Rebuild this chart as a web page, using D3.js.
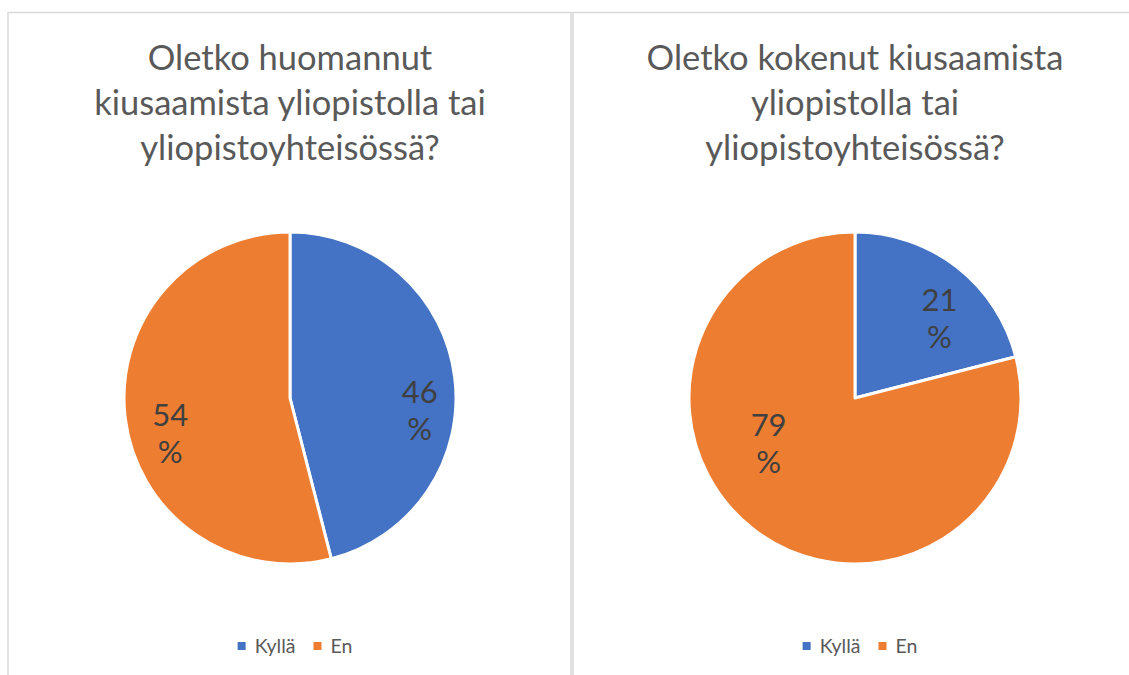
<!DOCTYPE html>
<html>
<head>
<meta charset="utf-8">
<script src="https://cdn.jsdelivr.net/npm/d3@7"></script>
<style>
  html, body { margin: 0; padding: 0; background: #fff; }
  svg { display: block; font-family: Lato, "Open Sans", sans-serif; }
</style>
</head>
<body>
<svg id="chart" width="1129" height="675"></svg>
<script>
// ---- data ----
const categories = ["Kyllä", "En"];
const titles = [
  ["Oletko huomannut", "kiusaamista yliopistolla tai", "yliopistoyhteisössä?"],
  ["Oletko kokenut kiusaamista", "yliopistolla tai", "yliopistoyhteisössä?"]
];
const valuesObserved = [46, 54];
const valuesExperienced = [21, 79];
const colors = ["#4472C4", "#ED7D31"];

// ---- layout (not data) ----
const W = 1129, H = 675;
const panels = [
  { x0: 8, x1: 571, cx: 290, values: valuesObserved, title: titles[0],
    labelShift: [[-2, 29], [12, 18]] },
  { x0: 573, x1: 1140, cx: 855, values: valuesExperienced, title: titles[1],
    labelShift: [[3, 25], [-5, -60]] }
];
const cy = 398, R = 166;

const svg = d3.select("#chart");
svg.append("rect").attr("width", W).attr("height", H).attr("fill", "#fff");

const pie = d3.pie().sort(null).value(d => d);
const arc = d3.arc().innerRadius(0).outerRadius(R);
const labelArc = d3.arc().innerRadius(R * 0.8).outerRadius(R * 0.8);

panels.forEach(p => {
  // panel border
  svg.append("rect")
    .attr("x", p.x0).attr("y", 12.5)
    .attr("width", p.x1 - p.x0).attr("height", H + 20)
    .attr("fill", "none").attr("stroke", "#d9d9d9").attr("stroke-width", 1.5);

  // title
  const t = svg.append("text")
    .attr("text-anchor", "middle")
    .attr("fill", "#595959")
    .style("font-size", "34.5px");
  p.title.forEach((line, i) => {
    t.append("tspan").attr("x", p.cx).attr("y", 70 + i * 45).text(line);
  });

  const g = svg.append("g").attr("transform", `translate(${p.cx},${cy})`);
  const arcs = pie(p.values);
  g.selectAll("path").data(arcs).join("path")
    .attr("d", arc)
    .attr("fill", (d, i) => colors[i])
    .attr("stroke", "#fff").attr("stroke-width", 3)
    .attr("stroke-linejoin", "round");

  // data labels
  arcs.forEach((d, i) => {
    const [x, y] = labelArc.centroid(d);
    const [dx, dy] = p.labelShift[i];
    const lt = g.append("text")
      .attr("text-anchor", "middle")
      .attr("fill", "#404040")
      .style("font-size", "31px");
    lt.append("tspan").attr("x", x + dx).attr("y", y + dy - 7).text(d.data);
    lt.append("tspan").attr("x", x + dx).attr("y", y + dy + 30).text("%");
  });

  // legend
  const lg = svg.append("g");
  let lx = 0;
  categories.forEach((c, i) => {
    lg.append("rect").attr("x", lx).attr("y", -11).attr("width", 8).attr("height", 8)
      .attr("fill", colors[i]);
    const tx = lg.append("text").attr("x", lx + 17).attr("y", 0)
      .attr("fill", "#595959").style("font-size", "19.5px").text(c);
    lx += 17 + tx.node().getComputedTextLength() + 18;
  });
  const lw = lx - 18;
  lg.attr("transform", `translate(${p.cx + 5 - lw / 2},653)`);
});
</script>
</body>
</html>
